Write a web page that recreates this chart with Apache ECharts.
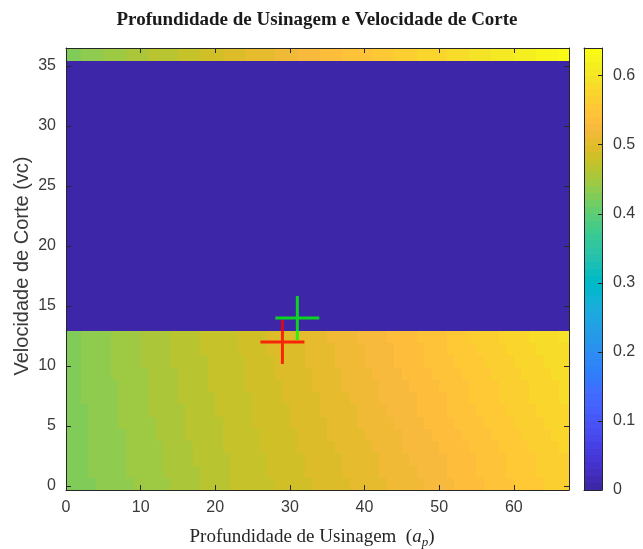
<!DOCTYPE html>
<html>
<head>
<meta charset="utf-8">
<title>Profundidade de Usinagem e Velocidade de Corte</title>
<script src="https://cdn.jsdelivr.net/npm/echarts@6/dist/echarts.min.js"></script>
<style>
  html, body { margin: 0; padding: 0; background: #ffffff; }
  #chart { width: 643px; height: 549px; }
</style>
</head>
<body>
<div id="chart"></div>
<script>
// Grid nodes of the surface: depth of cut (ap) columns and cutting speed (vc) rows
const apGrid = [0, 1, 2, 3, 4, 5, 6, 7, 8, 9, 10, 11, 12, 13, 14, 15, 16, 17, 18, 19, 20,
  21, 22, 23, 24, 25, 26, 27, 28, 29, 30, 31, 32, 33, 34, 35, 36, 37, 38, 39, 40,
  41, 42, 43, 44, 45, 46, 47, 48, 49, 50, 51, 52, 53, 54, 55, 56, 57, 58, 59, 60,
  61, 62, 63, 64, 65, 66, 67.4];
const vcGrid = [-0.33, 0.69, 1.71, 2.73, 3.75, 4.77, 5.79, 6.81, 7.83, 8.85, 9.86,
  10.88, 11.90, 12.92, 35.4, 36.5];

// Lower band: one entry per ap column, listing the 13 vc rows from bottom to top
const zLower = [
  [.423,.423,.424,.424,.424,.424,.425,.425,.425,.426,.426,.426,.426],
  [.425,.425,.426,.426,.426,.427,.427,.427,.428,.428,.428,.429,.429],
  [.427,.428,.428,.428,.429,.429,.429,.430,.430,.430,.431,.431,.431],
  [.429,.430,.430,.430,.431,.431,.432,.432,.432,.433,.433,.434,.434],
  [.431,.432,.432,.432,.433,.433,.434,.434,.435,.435,.436,.436,.436],
  [.433,.434,.434,.435,.435,.436,.436,.437,.437,.438,.438,.439,.439],
  [.435,.436,.436,.437,.437,.438,.438,.439,.439,.440,.440,.441,.442],
  [.437,.438,.438,.439,.439,.440,.441,.441,.442,.442,.443,.443,.444],
  [.439,.440,.440,.441,.442,.442,.443,.443,.444,.445,.445,.446,.446],
  [.441,.442,.442,.443,.444,.444,.445,.446,.446,.447,.448,.448,.449],
  [.443,.444,.444,.445,.446,.447,.447,.448,.449,.449,.450,.451,.451],
  [.445,.446,.447,.447,.448,.449,.450,.450,.451,.452,.452,.453,.454],
  [.447,.448,.449,.449,.450,.451,.452,.453,.453,.454,.455,.456,.456],
  [.449,.450,.451,.451,.452,.453,.454,.455,.456,.457,.457,.458,.459],
  [.451,.452,.453,.454,.455,.456,.456,.457,.458,.459,.460,.461,.461],
  [.454,.455,.455,.456,.457,.458,.459,.460,.460,.461,.462,.463,.464],
  [.456,.457,.458,.459,.460,.460,.461,.462,.463,.464,.465,.465,.466],
  [.459,.459,.460,.461,.462,.463,.464,.464,.465,.466,.467,.468,.469],
  [.461,.462,.463,.463,.464,.465,.466,.467,.467,.468,.469,.470,.471],
  [.463,.464,.465,.465,.466,.467,.468,.469,.470,.470,.471,.472,.473],
  [.465,.466,.467,.468,.468,.469,.470,.471,.472,.472,.473,.474,.475],
  [.467,.468,.469,.470,.470,.471,.472,.473,.474,.474,.475,.476,.477],
  [.470,.470,.471,.472,.473,.473,.474,.475,.476,.476,.477,.478,.479],
  [.471,.472,.473,.474,.475,.475,.476,.477,.478,.479,.479,.480,.481],
  [.473,.474,.475,.476,.477,.477,.478,.479,.480,.481,.482,.483,.483],
  [.475,.476,.477,.478,.479,.480,.480,.481,.482,.483,.484,.485,.486],
  [.477,.478,.479,.480,.481,.482,.483,.483,.484,.485,.486,.487,.488],
  [.479,.480,.481,.482,.483,.484,.485,.486,.487,.488,.489,.490,.491],
  [.481,.482,.483,.484,.485,.486,.487,.488,.489,.490,.491,.492,.493],
  [.483,.484,.485,.486,.487,.488,.489,.490,.491,.492,.493,.494,.495],
  [.485,.486,.487,.488,.489,.490,.491,.492,.493,.495,.496,.497,.498],
  [.487,.488,.489,.490,.491,.492,.493,.495,.496,.497,.498,.499,.500],
  [.489,.490,.491,.492,.493,.495,.496,.497,.498,.499,.500,.502,.503],
  [.491,.492,.493,.494,.496,.497,.498,.499,.500,.502,.503,.504,.505],
  [.492,.494,.495,.496,.498,.499,.500,.502,.503,.504,.505,.507,.508],
  [.494,.496,.497,.498,.500,.501,.502,.504,.505,.507,.508,.509,.511],
  [.496,.498,.499,.500,.502,.503,.505,.506,.507,.509,.510,.512,.513],
  [.498,.500,.501,.503,.504,.505,.507,.508,.510,.511,.513,.514,.515],
  [.500,.502,.503,.505,.506,.508,.509,.510,.512,.513,.515,.516,.518],
  [.502,.504,.505,.507,.508,.510,.511,.513,.514,.516,.517,.519,.520],
  [.504,.506,.507,.509,.510,.512,.514,.515,.517,.518,.520,.521,.523],
  [.506,.508,.509,.511,.513,.514,.516,.517,.519,.521,.522,.524,.525],
  [.508,.510,.512,.513,.515,.517,.518,.520,.521,.523,.525,.526,.528],
  [.510,.512,.514,.515,.517,.519,.521,.522,.524,.526,.527,.529,.531],
  [.512,.514,.516,.518,.519,.521,.523,.525,.526,.528,.530,.532,.533],
  [.514,.516,.518,.520,.522,.523,.525,.527,.529,.531,.532,.534,.536],
  [.516,.518,.520,.522,.524,.526,.528,.529,.531,.533,.535,.537,.539],
  [.518,.520,.522,.524,.526,.528,.530,.532,.534,.536,.537,.539,.541],
  [.520,.522,.524,.526,.528,.530,.532,.534,.536,.538,.540,.542,.544],
  [.523,.525,.527,.529,.531,.533,.535,.537,.539,.541,.543,.545,.547],
  [.525,.527,.529,.531,.533,.535,.537,.539,.541,.543,.545,.547,.549],
  [.528,.530,.532,.534,.536,.538,.540,.542,.544,.546,.548,.550,.552],
  [.530,.532,.534,.536,.538,.540,.542,.544,.546,.548,.550,.553,.555],
  [.533,.535,.537,.539,.541,.543,.545,.547,.549,.551,.553,.555,.557],
  [.535,.537,.539,.541,.543,.545,.547,.550,.552,.554,.556,.558,.560],
  [.538,.540,.542,.544,.546,.548,.550,.552,.554,.556,.558,.560,.562],
  [.540,.542,.544,.546,.548,.551,.553,.555,.557,.559,.561,.563,.565],
  [.543,.545,.547,.549,.551,.553,.555,.557,.559,.561,.563,.565,.567],
  [.545,.547,.549,.551,.553,.556,.558,.560,.562,.564,.566,.568,.570],
  [.548,.550,.552,.554,.556,.558,.560,.562,.564,.566,.568,.570,.573],
  [.550,.552,.554,.556,.558,.560,.563,.565,.567,.569,.571,.573,.575],
  [.553,.555,.557,.559,.561,.563,.565,.567,.569,.571,.573,.575,.578],
  [.555,.557,.559,.561,.563,.565,.568,.570,.572,.574,.576,.578,.580],
  [.558,.560,.562,.564,.566,.568,.570,.572,.574,.576,.578,.580,.583],
  [.560,.562,.564,.566,.568,.570,.573,.575,.577,.579,.581,.583,.585],
  [.563,.565,.567,.569,.571,.573,.575,.577,.579,.581,.583,.585,.588],
  [.565,.567,.569,.571,.573,.575,.578,.580,.582,.584,.586,.588,.590]
];

// Middle band (vc between the lower band and the top strip): zero everywhere
const zMiddle = [0,0,0,0,0,0,0,0,0,0,0,0,0,0,0,0,0,0,0,0,0,0,0,0,0,0,0,0,0,0,0,0,0,
  0,0,0,0,0,0,0,0,0,0,0,0,0,0,0,0,0,0,0,0,0,0,0,0,0,0,0,0,0,0,0,0,0,0];

// Top strip, one value per ap column
const zTop = [.425,.429,.432,.435,.439,.442,.446,.449,.452,.455,
  .458,.461,.464,.466,.469,.472,.475,.478,.481,.484,
  .488,.491,.495,.498,.501,.504,.506,.509,.512,.515,
  .518,.522,.525,.528,.531,.535,.538,.541,.543,.546,
  .548,.551,.555,.558,.561,.564,.567,.570,.573,.576,
  .578,.581,.584,.587,.590,.593,.597,.601,.604,.608,
  .611,.614,.617,.620,.623,.626,.630];

// Highlighted operating points [ap, vc]
const redPoint = [29, 12];
const greenPoint = [31, 14];

// Tick labels
const apTicks = [0, 10, 20, 30, 40, 50, 60];
const vcTicks = [0, 5, 10, 15, 20, 25, 30, 35];
const barTicks = [0, 0.1, 0.2, 0.3, 0.4, 0.5, 0.6];

// Colour limits and the 64-step parula colormap
const CLIM = [0, 0.64];
const parula = [
  [0.2422,0.1504,0.6603],[0.2504,0.1650,0.7076],[0.2578,0.1818,0.7511],[0.2647,0.1978,0.7952],
  [0.2706,0.2147,0.8364],[0.2751,0.2342,0.8710],[0.2783,0.2559,0.8991],[0.2803,0.2782,0.9221],
  [0.2813,0.3006,0.9414],[0.2810,0.3228,0.9579],[0.2795,0.3447,0.9717],[0.2760,0.3667,0.9829],
  [0.2699,0.3892,0.9906],[0.2602,0.4123,0.9952],[0.2440,0.4358,0.9988],[0.2206,0.4603,0.9973],
  [0.1963,0.4847,0.9892],[0.1834,0.5074,0.9798],[0.1786,0.5289,0.9682],[0.1764,0.5499,0.9520],
  [0.1687,0.5703,0.9359],[0.1540,0.5902,0.9218],[0.1460,0.6091,0.9079],[0.1380,0.6276,0.8973],
  [0.1248,0.6459,0.8883],[0.1113,0.6635,0.8763],[0.0952,0.6798,0.8598],[0.0689,0.6948,0.8394],
  [0.0297,0.7082,0.8163],[0.0036,0.7203,0.7917],[0.0067,0.7312,0.7660],[0.0433,0.7411,0.7394],
  [0.0964,0.7500,0.7120],[0.1408,0.7584,0.6842],[0.1717,0.7670,0.6554],[0.1938,0.7758,0.6251],
  [0.2161,0.7843,0.5923],[0.2470,0.7918,0.5567],[0.2906,0.7973,0.5188],[0.3406,0.8008,0.4789],
  [0.3909,0.8029,0.4354],[0.4456,0.8024,0.3909],[0.5044,0.7993,0.3480],[0.5616,0.7942,0.3045],
  [0.6174,0.7876,0.2612],[0.6720,0.7793,0.2227],[0.7242,0.7698,0.1910],[0.7738,0.7598,0.1646],
  [0.8203,0.7498,0.1535],[0.8634,0.7406,0.1596],[0.9035,0.7330,0.1774],[0.9393,0.7288,0.2100],
  [0.9728,0.7298,0.2394],[0.9956,0.7434,0.2371],[0.9970,0.7659,0.2199],[0.9952,0.7893,0.2028],
  [0.9892,0.8136,0.1885],[0.9786,0.8386,0.1766],[0.9676,0.8639,0.1643],[0.9610,0.8890,0.1537],
  [0.9597,0.9135,0.1423],[0.9628,0.9373,0.1265],[0.9691,0.9606,0.1064],[0.9769,0.9839,0.0805]
];
const cmap = parula.map(c => 'rgb(' + c.map(v => Math.round(v * 255)).join(',') + ')');

function colorFor(z) {
  const n = cmap.length;
  let k = Math.floor((z - CLIM[0]) / (CLIM[1] - CLIM[0]) * n + 1e-9);
  if (k < 0) k = 0;
  if (k > n - 1) k = n - 1;
  return cmap[k];
}

// Surface cells: [apStart, apEnd, vcStart, vcEnd, z]
const cells = [];
for (let i = 0; i < apGrid.length - 1; i++) {
  for (let r = 0; r < zLower[i].length; r++) {
    cells.push([apGrid[i], apGrid[i + 1], vcGrid[r], vcGrid[r + 1], zLower[i][r]]);
  }
  cells.push([apGrid[i], apGrid[i + 1], vcGrid[13], vcGrid[14], zMiddle[i]]);
  cells.push([apGrid[i], apGrid[i + 1], vcGrid[14], vcGrid[15], zTop[i]]);
}

// Colour bar: one block per colormap step
const barCells = cmap.map((c, k) => [0, 1,
  CLIM[0] + (CLIM[1] - CLIM[0]) * k / cmap.length,
  CLIM[0] + (CLIM[1] - CLIM[0]) * (k + 1) / cmap.length, k]);

function renderRect(api, fill) {
  const p0 = api.coord([api.value(0), api.value(2)]);
  const p1 = api.coord([api.value(1), api.value(3)]);
  const x0 = Math.round(Math.min(p0[0], p1[0]));
  const x1 = Math.round(Math.max(p0[0], p1[0]));
  const y0 = Math.round(Math.min(p0[1], p1[1]));
  const y1 = Math.round(Math.max(p0[1], p1[1]));
  return { type: 'rect', shape: { x: x0, y: y0, width: x1 - x0, height: y1 - y0 },
           style: { fill: fill } };
}

const AXIS_COLOR = '#262626';
const LABEL_COLOR = '#3a3a3a';
const tickFont = { color: LABEL_COLOR, fontFamily: 'Liberation Sans', fontSize: 16 };

function boxAxis(extra) {
  return Object.assign({
    type: 'value',
    axisLine: { show: true, onZero: false, lineStyle: { color: AXIS_COLOR, width: 1 } },
    axisTick: { show: false },
    axisLabel: { show: false },
    splitLine: { show: false },
    z: 10
  }, extra);
}

const plusPath = 'path://M0,20.5L44,20.5L44,23.5L0,23.5Z M20.5,0L23.5,0L23.5,44L20.5,44Z';

const option = {
  animation: false,
  backgroundColor: '#ffffff',
  grid: [
    { left: 66, top: 48, width: 503, height: 442 },
    { left: 584, top: 48, width: 18, height: 442 }
  ],
  xAxis: [
    boxAxis({ gridIndex: 0, position: 'bottom', min: 0, max: 67.4,
      axisTick: { show: true, inside: true, length: 5, customValues: apTicks,
                  lineStyle: { color: AXIS_COLOR } },
      axisLabel: Object.assign({ show: true, margin: 10, customValues: apTicks }, tickFont) }),
    boxAxis({ gridIndex: 0, position: 'top', min: 0, max: 67.4,
      axisTick: { show: true, inside: true, length: 5, customValues: apTicks,
                  lineStyle: { color: AXIS_COLOR } } }),
    boxAxis({ gridIndex: 1, position: 'bottom', min: 0, max: 1 }),
    boxAxis({ gridIndex: 1, position: 'top', min: 0, max: 1 })
  ],
  yAxis: [
    boxAxis({ gridIndex: 0, position: 'left', min: -0.33, max: 36.5,
      axisTick: { show: true, inside: true, length: 5, customValues: vcTicks,
                  lineStyle: { color: AXIS_COLOR } },
      axisLabel: Object.assign({ show: true, margin: 10, customValues: vcTicks }, tickFont) }),
    boxAxis({ gridIndex: 0, position: 'right', min: -0.33, max: 36.5,
      axisTick: { show: true, inside: true, length: 5, customValues: vcTicks,
                  lineStyle: { color: AXIS_COLOR } } }),
    boxAxis({ gridIndex: 1, position: 'left', min: CLIM[0], max: CLIM[1] }),
    boxAxis({ gridIndex: 1, position: 'right', min: CLIM[0], max: CLIM[1],
      axisTick: { show: true, inside: true, length: 4, customValues: barTicks,
                  lineStyle: { color: AXIS_COLOR } },
      axisLabel: Object.assign({ show: true, margin: 11, customValues: barTicks }, tickFont) })
  ],
  series: [
    {
      type: 'custom',
      name: 'superficie',
      xAxisIndex: 0, yAxisIndex: 0,
      data: cells,
      encode: { x: [0, 1], y: [2, 3] },
      renderItem: (params, api) => renderRect(api, colorFor(api.value(4))),
      clip: true,
      silent: true,
      z: 2
    },
    {
      type: 'custom',
      name: 'barra',
      xAxisIndex: 2, yAxisIndex: 2,
      data: barCells,
      encode: { x: [0, 1], y: [2, 3] },
      renderItem: (params, api) => renderRect(api, cmap[api.value(4)]),
      silent: true,
      z: 2
    },
    {
      type: 'scatter',
      xAxisIndex: 0, yAxisIndex: 0,
      data: [redPoint],
      symbol: plusPath,
      symbolSize: 44,
      itemStyle: { color: '#ff0000' },
      silent: true,
      z: 5
    },
    {
      type: 'scatter',
      xAxisIndex: 0, yAxisIndex: 0,
      data: [greenPoint],
      symbol: plusPath,
      symbolSize: 44,
      itemStyle: { color: '#00ff00' },
      silent: true,
      z: 5
    }
  ],
  graphic: [
    {
      type: 'text', x: 317, y: 20,
      style: { text: 'Profundidade de Usinagem e Velocidade de Corte',
               fontFamily: 'Liberation Serif', fontWeight: 'bold', fontSize: 19,
               fill: '#1a1a1a', align: 'center', verticalAlign: 'middle' }
    },
    {
      type: 'text', x: 312, y: 537,
      style: {
        text: '{n|Profundidade de Usinagem  (}{i|a}{s|p}{n|)}',
        align: 'center', verticalAlign: 'middle',
        rich: {
          n: { fontFamily: 'Liberation Serif', fontSize: 19, fill: AXIS_COLOR,
               lineHeight: 24, verticalAlign: 'middle' },
          i: { fontFamily: 'Liberation Serif', fontStyle: 'italic', fontSize: 19,
               fill: AXIS_COLOR, lineHeight: 24, verticalAlign: 'middle' },
          s: { fontFamily: 'Liberation Serif', fontStyle: 'italic', fontSize: 13,
               fill: AXIS_COLOR, lineHeight: 13, verticalAlign: 'bottom' }
        }
      }
    },
    {
      type: 'text', x: 22, y: 266, rotation: Math.PI / 2,
      style: { text: 'Velocidade de Corte (vc)',
               fontFamily: 'Liberation Sans', fontSize: 20,
               fill: LABEL_COLOR, align: 'center', verticalAlign: 'middle' }
    }
  ]
};

const chart = echarts.init(document.getElementById('chart'), null, { renderer: 'canvas' });
chart.setOption(option);
</script>
</body>
</html>
